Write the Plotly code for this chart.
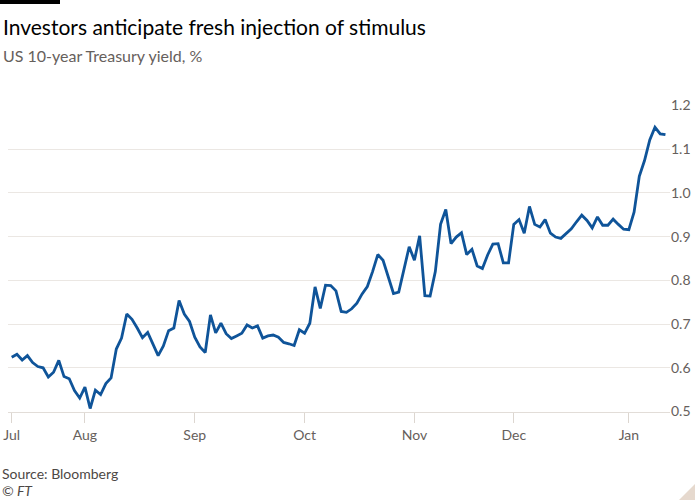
import pandas as pd
import plotly.graph_objects as go

# ---- data (US 10-year Treasury yield, %, bond-market trading days) ----
holidays = ["2020-09-07", "2020-10-12", "2020-11-11", "2020-11-26", "2020-12-25", "2021-01-01"]
dates = pd.bdate_range("2020-07-14", "2021-01-13", freq="C", holidays=holidays)

yields = [
    0.624, 0.631, 0.618, 0.628, 0.612, 0.603, 0.600, 0.579, 0.590, 0.617,
    0.580, 0.575, 0.548, 0.531, 0.556, 0.507, 0.549, 0.539, 0.564, 0.577,
    0.643, 0.668, 0.723, 0.711, 0.691, 0.669, 0.681, 0.653, 0.628, 0.650,
    0.685, 0.691, 0.754, 0.723, 0.706, 0.670, 0.648, 0.635, 0.721, 0.680,
    0.702, 0.678, 0.667, 0.673, 0.679, 0.698, 0.691, 0.696, 0.668, 0.673,
    0.675, 0.670, 0.658, 0.655, 0.651, 0.687, 0.679, 0.702, 0.785, 0.736,
    0.789, 0.788, 0.776, 0.729, 0.727, 0.735, 0.748, 0.769, 0.786, 0.820,
    0.859, 0.846, 0.808, 0.770, 0.773, 0.823, 0.877, 0.846, 0.902, 0.765,
    0.764, 0.820, 0.928, 0.962, 0.884, 0.899, 0.909, 0.859, 0.871, 0.833,
    0.827, 0.858, 0.883, 0.884, 0.840, 0.840, 0.928, 0.939, 0.908, 0.969,
    0.928, 0.922, 0.939, 0.908, 0.899, 0.896, 0.908, 0.918, 0.934, 0.949,
    0.937, 0.920, 0.945, 0.926, 0.926, 0.940, 0.928, 0.917, 0.916, 0.956,
    1.038, 1.074, 1.121, 1.150, 1.135, 1.133,
]

y_ticks = [0.5, 0.6, 0.7, 0.8, 0.9, 1.0, 1.1, 1.2]
y_tick_labels = ["0.5", "0.6", "0.7", "0.8", "0.9", "1.0", "1.1", "1.2"]

title = "Investors anticipate fresh injection of stimulus"
subtitle = "US 10-year Treasury yield, %"
source = "Source: Bloomberg"
credit = "© FT"

# ---- derived ----
idx = list(range(len(dates)))
month_ticks, month_labels = [], []
prev = None
for i, d in enumerate(dates):
    key = (d.year, d.month)
    if key != prev:
        month_ticks.append(i)
        month_labels.append(d.strftime("%b"))
        prev = key

# ---- layout geometry (pixels) ----
W, H = 700, 500
L, R, T, B = 8, 30, 105, 88
pw, ph = W - L - R, H - T - B


def px_x(px):
    return (px - L) / pw


def px_y(py):
    return (H - B - py) / ph


FONT = "Lato, 'Open Sans', sans-serif"
GREY = "#66605c"

fig = go.Figure()
fig.add_trace(go.Scatter(
    x=idx, y=yields, mode="lines",
    line=dict(color="#0f5499", width=2.8),
    hoverinfo="skip", showlegend=False,
))

fig.update_layout(
    width=W, height=H,
    margin=dict(l=L, r=R, t=T, b=B, autoexpand=False),
    paper_bgcolor="white", plot_bgcolor="white",
    font=dict(family=FONT, color=GREY, size=14),
    xaxis=dict(
        range=[-0.71, 125.87], tickvals=month_ticks, ticktext=month_labels,
        showgrid=False, zeroline=False, automargin=False,
        showline=True, linecolor="#e2ddd8", linewidth=1,
        ticks="outside", ticklen=10, tickcolor="#dcd6d0", tickwidth=1,
        tickfont=dict(size=14, color=GREY, family=FONT),
    ),
    yaxis=dict(
        range=[0.499, 1.201], side="right", tickvals=y_ticks, ticktext=y_tick_labels,
        showgrid=True, gridcolor="#ebe7e3", gridwidth=1, zeroline=False,
        showline=False, ticks="", automargin=False,
        tickfont=dict(size=14, color=GREY, family=FONT),
    ),
    shapes=[
        dict(type="rect", xref="paper", yref="paper",
             x0=px_x(0), x1=px_x(60), y0=px_y(4), y1=px_y(0),
             fillcolor="black", line_width=0),
        dict(type="path", xref="paper", yref="paper",
             path=f"M {px_x(695)} {px_y(484)} L {px_x(695)} {px_y(500)} L {px_x(679)} {px_y(500)} Z",
             fillcolor="#e6d9ce", line_width=0),
    ],
    annotations=[
        dict(text=title, xref="paper", yref="paper", x=px_x(1), y=px_y(26),
             xanchor="left", yanchor="middle", showarrow=False,
             font=dict(size=21, color="#000000", family=FONT)),
        dict(text=subtitle, xref="paper", yref="paper", x=px_x(1), y=px_y(56),
             xanchor="left", yanchor="middle", showarrow=False,
             font=dict(size=16, color=GREY, family=FONT)),
        dict(text=source, xref="paper", yref="paper", x=px_x(0), y=px_y(473),
             xanchor="left", yanchor="middle", showarrow=False,
             font=dict(size=14, color="#4d4845", family=FONT)),
        dict(text="<i>" + credit + "</i>", xref="paper", yref="paper", x=px_x(0), y=px_y(490),
             xanchor="left", yanchor="middle", showarrow=False,
             font=dict(size=14, color="#4d4845", family=FONT)),
    ],
)

fig.write_html(
    "out.html",
    config={"displayModeBar": False},
    post_script="document.body.style.margin='0';document.body.style.overflow='hidden';",
)
